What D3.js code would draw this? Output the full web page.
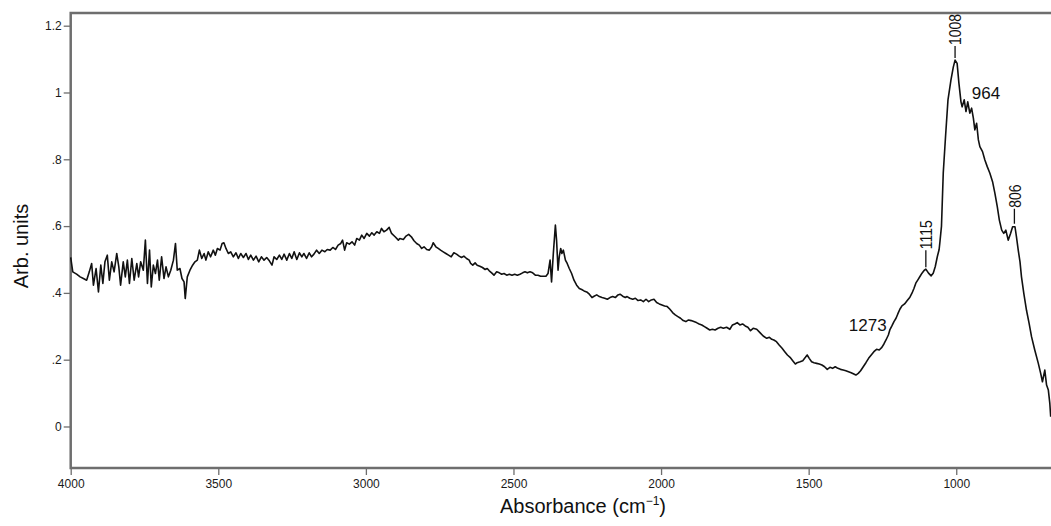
<!DOCTYPE html>
<html>
<head>
<meta charset="utf-8">
<script src="https://cdn.jsdelivr.net/npm/d3@7"></script>
<style>
  body { margin: 0; background: #fff; }
  svg { display: block; font-family: "Liberation Sans", Arial, sans-serif; }
</style>
</head>
<body>
<div id="chart"></div>
<script>
// spectrum: wavenumber (cm-1) and arb. units
var wavenumber = [
  4000, 3993, 3980, 3968, 3957, 3946, 3937, 3929, 3923, 3914,
  3906, 3898, 3891, 3884, 3876, 3869, 3861, 3853, 3844, 3837,
  3831, 3822, 3815, 3808, 3801, 3793, 3785, 3776, 3770, 3763,
  3754, 3747, 3740, 3733, 3727, 3720, 3713, 3706, 3700, 3692,
  3684, 3677, 3669, 3661, 3652, 3645, 3639, 3630, 3623, 3616,
  3612, 3605, 3596, 3587, 3579, 3571, 3564, 3556, 3548, 3542,
  3534, 3526, 3517, 3510, 3503, 3494, 3487, 3481, 3474, 3466,
  3458, 3449, 3440, 3432, 3424, 3415, 3406, 3398, 3390, 3381,
  3372, 3363, 3354, 3345, 3336, 3327, 3318, 3311, 3302, 3293,
  3285, 3277, 3268, 3259, 3251, 3243, 3234, 3225, 3217, 3210,
  3201, 3192, 3184, 3176, 3167, 3158, 3149, 3139, 3131, 3121,
  3112, 3103, 3094, 3085, 3079, 3072, 3065, 3056, 3047, 3038,
  3031, 3022, 3014, 3006, 2997, 2988, 2980, 2972, 2963, 2954,
  2947, 2939, 2930, 2921, 2913, 2901, 2890, 2885, 2873, 2864,
  2855, 2846, 2837, 2828, 2819, 2811, 2803, 2794, 2785, 2777,
  2772, 2763, 2755, 2747, 2738, 2729, 2720, 2711, 2702, 2693,
  2684, 2676, 2668, 2659, 2650, 2645, 2638, 2630, 2623, 2614,
  2605, 2596, 2589, 2582, 2574, 2566, 2557, 2548, 2540, 2532,
  2523, 2514, 2505, 2496, 2487, 2478, 2469, 2461, 2453, 2444,
  2435, 2426, 2417, 2408, 2399, 2390, 2383, 2376, 2371, 2365,
  2358, 2354, 2349, 2345, 2340, 2336, 2331, 2324, 2318, 2311,
  2303, 2295, 2286, 2277, 2269, 2261, 2252, 2243, 2234, 2227,
  2218, 2209, 2200, 2191, 2182, 2173, 2164, 2155, 2146, 2139,
  2130, 2121, 2115, 2106, 2096, 2087, 2078, 2069, 2060, 2051,
  2042, 2033, 2024, 2015, 2006, 1997, 1988, 1979, 1970, 1961,
  1952, 1943, 1934, 1925, 1916, 1907, 1898, 1889, 1880, 1871,
  1862, 1853, 1844, 1835, 1826, 1817, 1807, 1798, 1789, 1778,
  1767, 1758, 1750, 1742, 1733, 1724, 1715, 1706, 1697, 1688,
  1676, 1665, 1654, 1642, 1633, 1625, 1618, 1609, 1600, 1590,
  1581, 1572, 1563, 1554, 1545, 1539, 1529, 1520, 1511, 1505,
  1498, 1490, 1482, 1473, 1464, 1455, 1446, 1437, 1428, 1419,
  1410, 1401, 1392, 1383, 1374, 1365, 1356, 1347, 1340, 1332,
  1324, 1315, 1306, 1297, 1288, 1279, 1270, 1261, 1252, 1245,
  1238, 1230, 1225, 1218, 1211, 1204, 1198, 1191, 1184, 1175,
  1166, 1157, 1150, 1143, 1137, 1130, 1123, 1116, 1109, 1103,
  1094, 1085, 1078, 1071, 1064, 1058, 1055, 1050, 1044, 1036,
  1028, 1018, 1010, 1004, 997, 991, 984, 980, 973, 967,
  961, 954, 948, 942, 937, 931, 925, 920, 911, 903,
  895, 886, 877, 869, 861, 854, 846, 839, 832, 824,
  816, 809, 801, 796, 790, 784, 779, 771, 762, 753,
  745, 734, 722, 714, 708, 700, 694, 688, 683, 680
];
var absorbance = [
  .506, .463, .456, .448, .443, .438, .463, .488, .423, .473,
  .403, .483, .428, .493, .513, .438, .493, .463, .518, .478,
  .423, .493, .448, .498, .428, .503, .438, .488, .448, .493,
  .468, .558, .428, .528, .418, .483, .458, .498, .438, .508,
  .443, .478, .448, .468, .498, .548, .468, .473, .443, .433,
  .383, .448, .468, .483, .493, .498, .528, .503, .518, .498,
  .523, .508, .528, .513, .533, .528, .548, .550, .533, .518,
  .523, .508, .520, .503, .518, .506, .518, .500, .513, .498,
  .510, .493, .508, .498, .506, .496, .483, .508, .500, .513,
  .500, .516, .498, .518, .503, .523, .500, .520, .508, .518,
  .503, .520, .508, .516, .528, .518, .528, .523, .530, .528,
  .536, .530, .543, .548, .558, .528, .550, .546, .553, .543,
  .563, .558, .573, .563, .578, .570, .580, .573, .583, .578,
  .593, .583, .588, .596, .578, .568, .558, .563, .560, .570,
  .575, .568, .556, .548, .543, .533, .538, .530, .528, .538,
  .550, .538, .533, .528, .523, .518, .513, .508, .520, .516,
  .510, .506, .510, .503, .498, .488, .483, .490, .483, .480,
  .476, .470, .473, .466, .460, .453, .463, .460, .456, .458,
  .453, .456, .453, .456, .453, .456, .460, .463, .460, .463,
  .460, .453, .453, .450, .450, .450, .458, .498, .433, .518,
  .603, .558, .468, .508, .533, .518, .528, .498, .488, .473,
  .458, .438, .423, .413, .410, .406, .403, .396, .386, .390,
  .394, .389, .386, .384, .381, .386, .389, .386, .394, .396,
  .390, .386, .389, .384, .381, .384, .377, .379, .374, .381,
  .374, .379, .381, .371, .367, .364, .361, .359, .351, .341,
  .334, .329, .324, .317, .314, .319, .317, .314, .311, .307,
  .304, .299, .294, .289, .291, .289, .294, .297, .294, .297,
  .291, .304, .307, .311, .304, .307, .301, .297, .287, .294,
  .291, .281, .271, .264, .267, .261, .259, .254, .244, .234,
  .224, .214, .207, .197, .187, .191, .194, .197, .207, .214,
  .204, .194, .191, .189, .187, .184, .179, .171, .177, .174,
  .179, .174, .171, .169, .167, .164, .161, .157, .154, .159,
  .167, .179, .191, .204, .214, .224, .231, .229, .237, .247,
  .259, .274, .289, .301, .314, .324, .337, .351, .361, .367,
  .377, .387, .399, .414, .429, .439, .449, .459, .467, .471,
  .459, .451, .459, .479, .509, .530, .555, .600, .759, .872,
  .978, 1.037, 1.076, 1.097, 1.087, 1.028, .972, .957, .978, .943,
  .972, .938, .953, .923, .888, .908, .858, .838, .823, .798,
  .778, .758, .733, .698, .658, .618, .588, .578, .588, .558,
  .578, .598, .598, .568, .528, .493, .448, .398, .348, .308,
  .269, .229, .189, .159, .134, .169, .124, .109, .069, .029
];

var xTicks = [4000, 3500, 3000, 2500, 2000, 1500, 1000];
var yTicks = [0, .2, .4, .6, .8, 1, 1.2];
var yTickLabels = ["0", ".2", ".4", ".6", ".8", "1", "1.2"];

// peaks marked with a vertical label and a short line
var peakLabels = ["1008", "1115", "806"];
var peakWn = [1004, 1103, 803];
var peakAbs = [1.097, 0.471, 0.598];

// bands marked with a plain horizontal label
var bandLabels = ["964", "1273"];
var bandWn = [964, 1273];
var bandAbs = [0.97, 0.23];

var width = 1051, height = 526;
var margin = {top: 13, left: 70.7, bottom: 468};

var svg = d3.select("#chart")
  .append("svg")
    .attr("width", width)
    .attr("height", height);

var x = d3.scaleLinear()
  .domain([4000, 679])
  .range([margin.left, width]);

var y = d3.scaleLinear()
  .domain([-0.1243, 1.238])
  .range([margin.bottom, margin.top]);

// axes
var xAxis = svg.append("g")
  .attr("transform", "translate(0," + margin.bottom + ")")
  .call(d3.axisBottom(x).tickValues(xTicks).tickSize(7).tickSizeOuter(0).tickPadding(4).tickFormat(d3.format("d")));

var yAxis = svg.append("g")
  .attr("transform", "translate(" + margin.left + ",0)")
  .call(d3.axisLeft(y).tickValues(yTicks).tickSize(7).tickSizeOuter(0).tickPadding(2)
    .tickFormat(function(d, i) { return yTickLabels[i]; }));

[xAxis, yAxis].forEach(function(a) {
  a.select(".domain").remove();
  a.selectAll(".tick line").attr("stroke", "#6e6e6e").attr("stroke-width", 1.3);
  a.selectAll(".tick text").attr("fill", "#1a1a1a").style("font-size", "12px")
    .style("font-family", "'Liberation Sans', Arial, sans-serif");
});

// frame (right side falls outside the picture)
svg.append("rect")
  .attr("x", margin.left)
  .attr("y", margin.top)
  .attr("width", 1000)
  .attr("height", margin.bottom - margin.top)
  .attr("fill", "none")
  .attr("stroke", "#6e6e6e")
  .attr("stroke-width", 2.5);

// the spectrum
var points = wavenumber.map(function(w, i) { return [w, absorbance[i]]; });

svg.append("path")
  .datum(points)
  .attr("fill", "none")
  .attr("stroke", "#111")
  .attr("stroke-width", 1.6)
  .attr("stroke-linejoin", "round")
  .attr("d", d3.line()
    .x(function(d) { return x(d[0]); })
    .y(function(d) { return y(d[1]); }));

// peak labels
var peakStyle = {"1008": {gap: 2, len: 12}, "1115": {gap: 2, len: 17}, "806": {gap: 3, len: 15}};

peakLabels.forEach(function(lab, i) {
  var s = peakStyle[lab];
  var g = svg.append("g")
    .attr("transform", "translate(" + x(peakWn[i]) + "," + y(peakAbs[i]) + ")");
  g.append("line")
    .attr("x1", 0).attr("x2", 0)
    .attr("y1", -s.gap).attr("y2", -(s.gap + s.len))
    .attr("stroke", "#111")
    .attr("stroke-width", 1.3);
  g.append("text")
    .attr("transform", "translate(0," + (-(s.gap + s.len + 1)) + ") rotate(-90) scale(0.82,1)")
    .attr("dy", "0.36em")
    .attr("text-anchor", "start")
    .attr("fill", "#111")
    .style("font-size", "17px")
    .text(lab);
});

// band labels
var bandStyle = {"964": {dx: 5, dy: -4, anchor: "start"}, "1273": {dx: 11, dy: -19, anchor: "end"}};

bandLabels.forEach(function(lab, i) {
  var s = bandStyle[lab];
  svg.append("text")
    .attr("x", x(bandWn[i]) + s.dx)
    .attr("y", y(bandAbs[i]) + s.dy)
    .attr("text-anchor", s.anchor)
    .attr("fill", "#111")
    .style("font-size", "17px")
    .text(lab);
});

// axis titles
var xt = svg.append("text")
  .attr("x", 583)
  .attr("y", 513)
  .attr("text-anchor", "middle")
  .attr("fill", "#111")
  .style("font-size", "20px");
xt.append("tspan").text("Absorbance (cm");
xt.append("tspan").attr("dy", -8).style("font-size", "12px").text("\u22121");
xt.append("tspan").attr("dy", 8).text(")");

svg.append("text")
  .attr("transform", "translate(27.5,246) rotate(-90)")
  .attr("text-anchor", "middle")
  .attr("fill", "#111")
  .style("font-size", "20px")
  .text("Arb. units");
</script>
</body>
</html>
